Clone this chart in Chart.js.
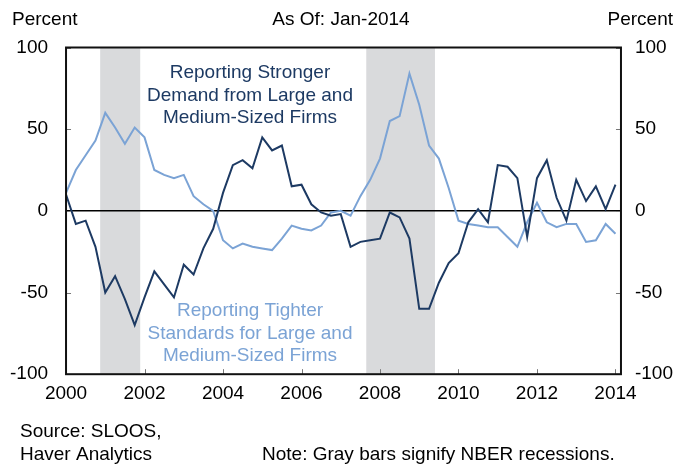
<!DOCTYPE html>
<html>
<head>
<meta charset="utf-8">
<script src="https://cdn.jsdelivr.net/npm/chart.js@4.4.1/dist/chart.umd.min.js"></script>
<style>
  html, body { margin: 0; padding: 0; background: #fff; }
</style>
</head>
<body>
<canvas id="chart" width="682" height="464"></canvas>
<script>
// quarterly survey results, 2000Q1 .. 2014Q1
const startYear = 2000;
const demand = [
    10, -8, -6, -22, -50, -40, -54, -70, -53, -37, -45, -53, -33, -39, -23, -11,
    11, 28, 31, 26, 45, 37, 40, 15, 16, 4, -1, -3, -2, -22, -19, -18,
    -17, -1, -4, -17, -60, -60, -44, -32, -26, -7, 1, -7, 28, 27, 20, -16,
    20, 31, 8, -6, 19, 6, 15, 1, 16
];
const standards = [
    11, 25, 34, 43, 60, 51, 41, 51, 45, 25, 22, 20, 22, 9, 4, 0,
    -18, -23, -20, -22, -23, -24, -17, -9, -11, -12, -9, -1, 0, -3, 9, 19,
    32, 55, 58, 84, 65, 40, 32, 14, -6, -8, -9, -10, -10, -16, -22, -7,
    5, -7, -10, -8, -8, -19, -18, -8, -14
];
const recessionStart = [2000.87, 2007.65];
const recessionEnd = [2001.89, 2009.40];
const yearTicks = [2000, 2002, 2004, 2006, 2008, 2010, 2012, 2014];
const valueTicks = [-100, -50, 0, 50, 100];

const darkBlue = '#1d3a63';
const lightBlue = '#7ba3d5';
const fontFamily = '"Liberation Sans", Arial, sans-serif';

Chart.defaults.font.family = fontFamily;
Chart.defaults.font.size = 19;
Chart.defaults.color = '#000';

function toPoints(values) {
    return values.map((v, i) => ({ x: startYear + i / 4, y: v }));
}

const decor = {
    id: 'decor',
    beforeDatasetsDraw(chart) {
        const { ctx, chartArea: a, scales: { x, y } } = chart;
        ctx.save();
        ctx.fillStyle = '#d9dadc';
        recessionStart.forEach((s, i) => {
            const x0 = x.getPixelForValue(s);
            const x1 = x.getPixelForValue(recessionEnd[i]);
            ctx.fillRect(x0, a.top, x1 - x0, a.bottom - a.top);
        });
        const yz = y.getPixelForValue(0);
        ctx.strokeStyle = '#000';
        ctx.lineWidth = 1.5;
        ctx.beginPath();
        ctx.moveTo(a.left, yz);
        ctx.lineTo(a.right, yz);
        ctx.stroke();
        ctx.restore();
    },
    afterDraw(chart) {
        const { ctx, chartArea: a, scales: { x, y } } = chart;
        ctx.save();

        // small inside ticks
        ctx.strokeStyle = '#777';
        ctx.lineWidth = 1;
        ctx.beginPath();
        yearTicks.forEach(t => {
            const px = Math.round(x.getPixelForValue(t)) + 0.5;
            ctx.moveTo(px, a.bottom);
            ctx.lineTo(px, a.bottom - 5);
        });
        valueTicks.forEach(t => {
            const py = Math.round(y.getPixelForValue(t)) + 0.5;
            ctx.moveTo(a.left, py);
            ctx.lineTo(a.left + 5, py);
            ctx.moveTo(a.right, py);
            ctx.lineTo(a.right - 5, py);
        });
        ctx.stroke();

        // frame
        ctx.strokeStyle = '#111';
        ctx.lineWidth = 2;
        ctx.strokeRect(a.left, a.top, a.right - a.left, a.bottom - a.top);

        // header and notes
        ctx.font = '19px ' + fontFamily;
        ctx.fillStyle = '#000';
        ctx.textBaseline = 'middle';
        ctx.textAlign = 'left';
        ctx.fillText('Percent', 12, 20);
        ctx.fillText('Source: SLOOS,', 20, 432);
        ctx.fillText('Haver Analytics', 20, 455);
        ctx.fillText('Note: Gray bars signify NBER recessions.', 262, 455);
        ctx.textAlign = 'center';
        ctx.fillText('As Of: Jan-2014', 341, 20);
        ctx.textAlign = 'right';
        ctx.fillText('Percent', 673, 20);

        // series labels
        ctx.textAlign = 'center';
        ctx.fillStyle = darkBlue;
        ['Reporting Stronger', 'Demand from Large and', 'Medium-Sized Firms']
            .forEach((s, i) => ctx.fillText(s, 250, 73 + i * 22.5));
        ctx.fillStyle = lightBlue;
        ['Reporting Tighter', 'Standards for Large and', 'Medium-Sized Firms']
            .forEach((s, i) => ctx.fillText(s, 250, 311 + i * 22.5));
        ctx.restore();
    }
};

const ctx = document.getElementById('chart');

const chart = new Chart(ctx, {
    type: 'line',
    data: {
        datasets: [{
            label: 'Reporting Stronger Demand',
            data: toPoints(demand),
            borderColor: darkBlue,
            borderWidth: 2,
            pointRadius: 0,
            tension: 0
        }, {
            label: 'Reporting Tighter Standards',
            data: toPoints(standards),
            borderColor: lightBlue,
            borderWidth: 2,
            pointRadius: 0,
            tension: 0
        }]
    },
    options: {
        responsive: false,
        animation: false,
        layout: { padding: { left: -8, right: -5, top: 47.5, bottom: 51 } },
        plugins: { legend: { display: false }, tooltip: { enabled: false } },
        scales: {
            x: {
                type: 'linear',
                min: 2000,
                max: 2014.14,
                afterBuildTicks: s => { s.ticks = yearTicks.map(v => ({ value: v })); },
                ticks: { padding: 8, callback: v => String(v), maxRotation: 0 },
                grid: { display: false, drawTicks: false },
                border: { display: false }
            },
            y: {
                position: 'left',
                min: -100,
                max: 100,
                afterBuildTicks: s => { s.ticks = valueTicks.map(v => ({ value: v })); },
                ticks: { padding: 18 },
                grid: { display: false, drawTicks: false },
                border: { display: false }
            },
            y2: {
                position: 'right',
                min: -100,
                max: 100,
                afterBuildTicks: s => { s.ticks = valueTicks.map(v => ({ value: v })); },
                ticks: { padding: 14 },
                grid: { display: false, drawTicks: false },
                border: { display: false }
            }
        }
    },
    plugins: [decor]
});
</script>
</body>
</html>
